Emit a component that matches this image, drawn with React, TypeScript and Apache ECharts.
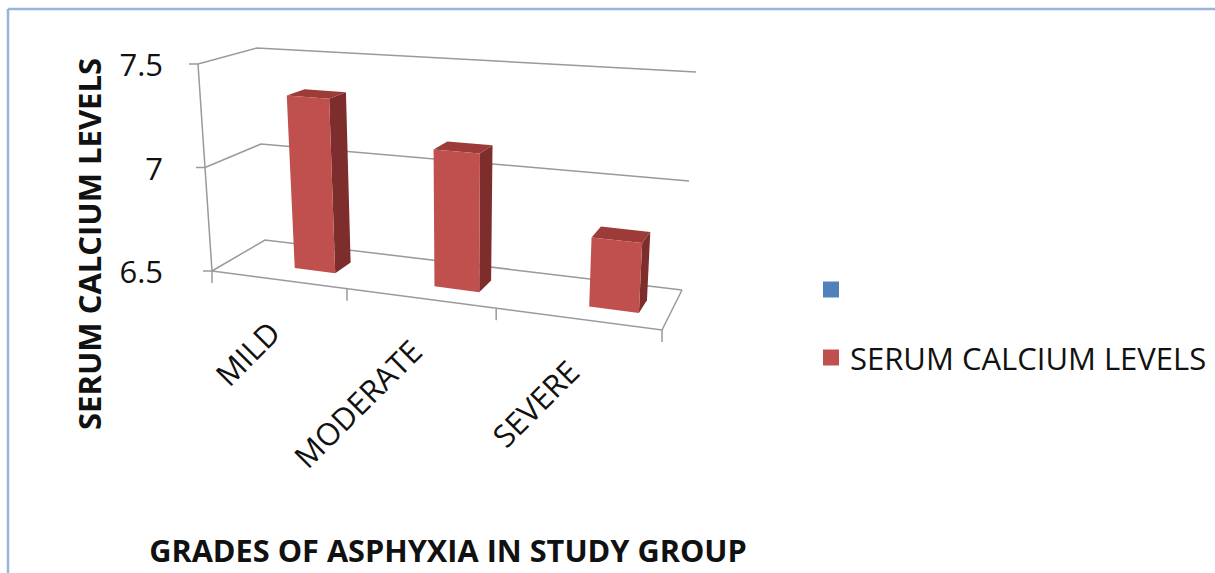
import React, { useEffect, useRef } from 'react';
import * as echarts from 'echarts';

// ---------- data ----------
const categories = ['MILD', 'MODERATE', 'SEVERE'];
const serumCalcium = [7.34, 7.14, 6.81];
const Y_MIN = 6.5;
const Y_MAX = 7.5;
const Y_STEP = 0.5;
const yTicks = [6.5, 7, 7.5];
const seriesName = 'SERUM CALCIUM LEVELS';
const emptySeriesName = ' ';
const xTitle = 'GRADES OF ASPHYXIA IN STUDY GROUP';
const yTitle = 'SERUM CALCIUM LEVELS';

// ---------- style / layout ----------
const FONT = '"Open Sans", "DejaVu Sans", sans-serif';
const TEXT = '#111111';
const GRID_LINE = '#9a9a9a';
const RED_FRONT = '#c0504d';
const RED_SIDE = '#7d2e2c';
const RED_TOP = '#9c3b38';
const BLUE = '#4f81bd';

// perspective box corners (screen px): key = u v w  (u: category side, v: value, w: depth)
const C: Record<string, number[]> = {
  '000': [212, 271], '010': [198, 64], '001': [265, 240], '011': [257, 48],
  '100': [662, 330], '110': [676, 95], '101': [682, 290], '111': [696, 72],
};
const WARP = 1.167;
const BAR_W = 0.3;
const BAR_Z = 0.3;
const BAR_D = 0.33;
const BAR_SHIFT = [37, -9];

function warp(s: number) {
  return s / (s + WARP * (1 - s));
}
function lerp(a: number[], b: number[], t: number) {
  return [a[0] + (b[0] - a[0]) * t, a[1] + (b[1] - a[1]) * t];
}
function proj(u: number, v: number, w: number): number[] {
  const t = warp(u / categories.length);
  const p00 = lerp(C['000'], C['100'], t);
  const p10 = lerp(C['010'], C['110'], t);
  const p01 = lerp(C['001'], C['101'], t);
  const p11 = lerp(C['011'], C['111'], t);
  const front = lerp(p00, p10, v);
  const back = lerp(p01, p11, v);
  return lerp(front, back, w);
}
function barPt(u: number, v: number, back: boolean): number[] {
  const b = proj(u, 0, 0);
  const a0 = proj(u, 0, BAR_Z);
  const a1 = proj(u, v, BAR_Z);
  let x = b[0] + BAR_SHIFT[0] + (a1[0] - a0[0]);
  let y = b[1] + BAR_SHIFT[1] + (a1[1] - a0[1]);
  if (back) {
    const c = proj(u, v, BAR_Z + BAR_D);
    x += c[0] - a1[0];
    y += c[1] - a1[1];
  }
  return [x, y];
}

export default function App() {
  const ref = useRef<HTMLDivElement>(null);
  useEffect(() => {
    if (!ref.current) return;
    const chart = echarts.init(ref.current, undefined, { renderer: 'svg' });

    const normV = (params: any, api: any, val: number) => {
      const cs = params.coordSys;
      const yPix = api.coord([0, val])[1];
      return (cs.y + cs.height - yPix) / cs.height;
    };

    const line = (pts: number[][], lw = 1.5) => ({
      type: 'polyline',
      shape: { points: pts },
      style: { stroke: GRID_LINE, lineWidth: lw, fill: 'none' },
      silent: true,
    });

    const option: any = {
      animation: false,
      backgroundColor: '#ffffff',
      grid: { left: 198, top: 64, width: 464, height: 207, containLabel: false },
      xAxis: { type: 'category', data: categories, show: false },
      yAxis: {
        type: 'value',
        min: Y_MIN,
        max: Y_MAX,
        interval: Y_STEP,
        axisLine: { show: false },
        axisTick: { show: false },
        splitLine: { show: false },
        axisLabel: { margin: 35, fontSize: 31, fontFamily: FONT, color: TEXT },
      },
      legend: {
        orient: 'vertical',
        left: 818,
        top: 269,
        itemWidth: 16,
        itemHeight: 16,
        itemGap: 37,
        icon: 'rect',
        selectedMode: false,
        data: [emptySeriesName, seriesName],
        textStyle: { fontSize: 31, fontFamily: FONT, color: TEXT, padding: [0, 0, 0, 6] },
      },
      graphic: [
        { type: 'line', shape: { x1: 8, y1: 9, x2: 8, y2: 573 }, style: { stroke: '#98b4d8', lineWidth: 2.5 } },
        { type: 'line', shape: { x1: 8, y1: 9, x2: 1215, y2: 9 }, style: { stroke: '#98b4d8', lineWidth: 2.5 } },
        {
          type: 'text', x: 89, y: 244, rotation: Math.PI / 2,
          style: { text: yTitle, fontSize: 31, fontWeight: 'bold', fontFamily: FONT, fill: TEXT, align: 'center', verticalAlign: 'middle' },
        },
        {
          type: 'text', x: 448, y: 550,
          style: { text: xTitle, fontSize: 30.7, fontWeight: 'bold', fontFamily: FONT, fill: TEXT, align: 'center', verticalAlign: 'middle' },
        },
      ],
      series: [
        {
          type: 'custom',
          name: 'frame',
          z: 1,
          silent: true,
          data: [[0, Y_MIN]],
          renderItem: (params: any, api: any) => {
            const n = categories.length;
            const children: any[] = [];
            yTicks.forEach((tk) => {
              const v = normV(params, api, tk);
              children.push(line([proj(0, v, 0), proj(0, v, 1), proj(n, v, 1)]));
              const f = proj(0, v, 0);
              children.push(line([[f[0] - 9, f[1]], f]));
            });
            const fl = proj(0, 0, 0);
            children.push(line([proj(0, 1, 0), fl, [fl[0], fl[1] + 12]]));
            children.push(line([proj(0, 0, 0), proj(n, 0, 0), proj(n, 0, 1)]));
            for (let k = 1; k <= n; k++) {
              const p = proj(k, 0, 0);
              children.push(line([p, [p[0], p[1] + 12]]));
            }
            return { type: 'group', children };
          },
        },
        {
          type: 'bar',
          name: emptySeriesName,
          data: [],
          itemStyle: { color: BLUE },
        },
        {
          type: 'custom',
          name: seriesName,
          z: 2,
          itemStyle: { color: RED_FRONT },
          data: serumCalcium.map((v, i) => [i, v]),
          renderItem: (params: any, api: any) => {
            const i = api.value(0);
            const val = api.value(1);
            const v = normV(params, api, val);
            const u0 = i + 0.5 - BAR_W / 2;
            const u1 = i + 0.5 + BAR_W / 2;
            const f00 = barPt(u0, 0, false);
            const f10 = barPt(u1, 0, false);
            const f11 = barPt(u1, v, false);
            const f01 = barPt(u0, v, false);
            const b10 = barPt(u1, 0, true);
            const b11 = barPt(u1, v, true);
            const b01 = barPt(u0, v, true);
            const lab = proj(i + 0.5, 0, 0);
            return {
              type: 'group',
              children: [
                { type: 'polygon', shape: { points: [f10, b10, b11, f11] }, style: { fill: RED_SIDE } },
                { type: 'polygon', shape: { points: [f01, f11, b11, b01] }, style: { fill: RED_TOP } },
                { type: 'polygon', shape: { points: [f00, f10, f11, f01] }, style: { fill: RED_FRONT } },
                {
                  type: 'text',
                  x: lab[0] - 4,
                  y: lab[1] + 47,
                  rotation: Math.PI / 4,
                  silent: true,
                  style: {
                    text: categories[i],
                    fontSize: 31,
                    fontFamily: FONT,
                    fill: TEXT,
                    align: 'right',
                    verticalAlign: 'middle',
                  },
                },
              ],
            };
          },
        },
      ],
    };
    chart.setOption(option);
    return () => chart.dispose();
  }, []);
  return (
    <div
      ref={ref}
      style={{ position: 'fixed', left: 0, top: 0, width: 1215, height: 573, background: '#fff' }}
    />
  );
}
